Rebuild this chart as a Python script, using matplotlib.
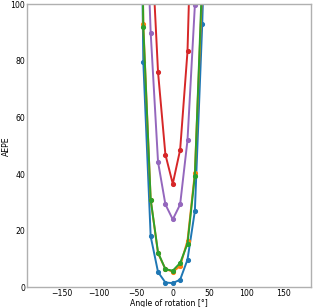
import matplotlib
matplotlib.use("Agg")
import matplotlib.pyplot as plt

# rotation angles, degrees
angles = list(range(-180, 180, 10))

# AEPE per method, one value per angle (-180 .. 170)
far = [400] * 13  # -180 .. -60, all far above the plotted range
aepe_blue = far + [290, 79.6, 18.0, 5.4, 1.7, 1.5, 2.7, 9.8, 27.0, 93.0, 180] + [400] * 12
aepe_orange = far + [300, 93.0, 31.0, 12.0, 6.5, 5.5, 7.5, 16.5, 40.5, 106, 250] + [400] * 12
aepe_green = far + [300, 92.0, 31.0, 12.3, 6.4, 5.9, 8.6, 15.4, 39.5, 110, 250] + [400] * 12
aepe_red = far + [350, 250, 128, 76.0, 46.9, 36.6, 48.6, 83.4, 175, 300, 350] + [400] * 12
aepe_purple = far + [300, 161, 90.0, 44.3, 29.3, 24.0, 29.3, 52.0, 99.6, 200, 300] + [400] * 12

series = [aepe_blue, aepe_orange, aepe_green, aepe_red, aepe_purple]
colors = ["tab:blue", "tab:orange", "tab:green", "tab:red", "tab:purple"]

fig = plt.figure(figsize=(3.14, 3.07), dpi=100)
ax = fig.add_axes([0.087, 0.064, 0.903, 0.922])

for vals, c in zip(series, colors):
    ax.plot(angles, vals, color=c, marker="o", markersize=2.7, linewidth=1.4)

ax.set_ylim(0, 100)
ax.set_xticks([-150, -100, -50, 0, 50, 100, 150])
ax.set_yticks([0, 20, 40, 60, 80, 100])
ax.tick_params(length=0, labelsize=5.6, pad=1.5)
for s in ax.spines.values():
    s.set_color("#b0b0b0")
    s.set_linewidth(1.0)
ax.set_xlabel("Angle of rotation [°]", fontsize=5.6, labelpad=0.5)
ax.set_ylabel("AEPE", fontsize=5.6, labelpad=-0.5)

fig.savefig("out.png", dpi=100)
